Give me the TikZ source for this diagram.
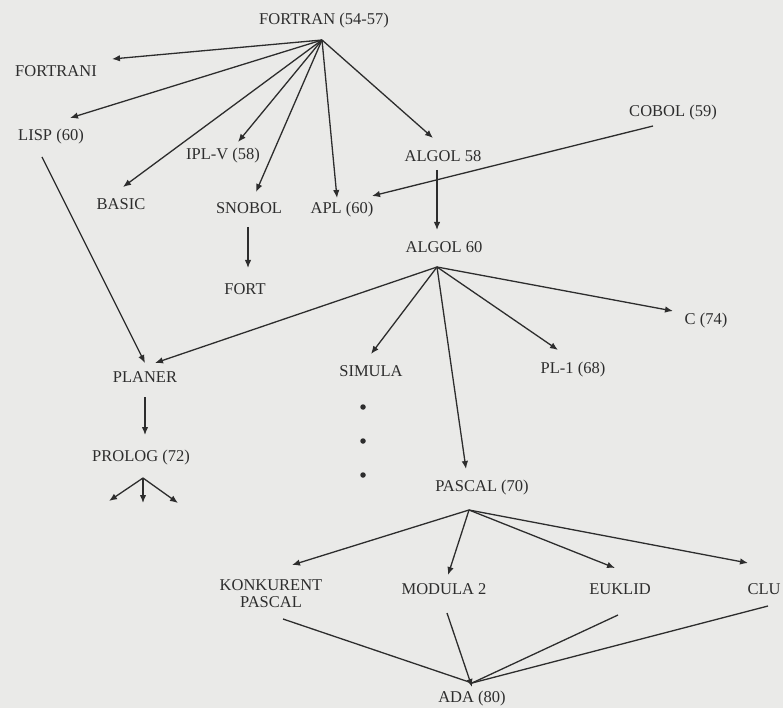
\documentclass[tikz,border=0pt]{standalone}
\usepackage{fontspec}
\setmainfont{Liberation Serif}
\usepackage{tikz}
\usepackage{xcolor}
\usetikzlibrary{calc,arrows.meta}
\definecolor{paper}{RGB}{234,234,232}
\definecolor{ink}{RGB}{45,45,45}

\begin{document}
\begin{tikzpicture}[x=1pt,y=-1pt]
        \tikzstyle{every node}=[inner sep=0pt, text=ink, font=\fontsize{16.5}{17}\selectfont]
        \tikzstyle{arr}=[draw=ink, line width=1.3pt, -{Latex[length=8pt,width=6.5pt]}]
        \tikzstyle{ln}=[draw=ink, line width=1.3pt]
        \tikzstyle{dot}=[fill=ink, circle, minimum size=5.5pt]

            \fill[paper] (0,0) rectangle (783,708);
            \useasboundingbox (0,0) rectangle (783,708);

            \node (fortran) at (324,21) {FORTRAN (54-57)};
            \node (fortrani) at (56,71) {FORTRANI};
            \node (lisp) at (51,137) {LISP (60)};
            \node (iplv) at (223,156) {IPL-V (58)};
            \node (basic) at (121,204) {BASIC};
            \node (snobol) at (249,208) {SNOBOL};
            \node (apl) at (342,210) {APL (60)};
            \node (algol58) at (443,156) {ALGOL 58};
            \node (cobol) at (673,113) {COBOL (59)};

            \node (algol60) at ($(algol58)+(1,91)$) {ALGOL 60};
            \node (fort) at ($(snobol)+(-4,81)$) {FORT};
            \node (planer) at (145,377) {PLANER};
            \node (prolog) at ($(planer)+(-4,81)$) {PROLOG (72)};
            \node (simula) at (371,371) {SIMULA};
            \node (pl1) at (573,370) {PL-1 (68)};
            \node (c74) at (706,321) {C (74)};

            \node (d1) [dot] at (363,407) {};
            \node (d2) [dot] at ($(d1)+(0,34)$) {};
            \node (d3) [dot] at ($(d2)+(0,34)$) {};

            \node (pascal) at (482,488) {PASCAL (70)};
            \node (kpascal) [align=center] at (271,594) {KONKURENT\\PASCAL};
            \node (modula) at (444,589) {MODULA 2};
            \node (euklid) at (620,589) {EUKLID};
            \node (clu) at (764,589) {CLU};
            \node (ada) at (472,699) {ADA (80)};

            \coordinate (fhub) at ($(fortran)+(-2,19)$);
            \coordinate (ahub) at ($(algol60)+(-7,20)$);
            \coordinate (phub) at ($(pascal)+(-13,22)$);
            \coordinate (prhub) at ($(prolog)+(2,20)$);
            \coordinate (adain) at ($(ada)+(0,-16)$);
            \coordinate (pr1) at ($(prhub)+(-34,23)$);
            \coordinate (pr2) at ($(prhub)+(0,25)$);
            \coordinate (pr3) at ($(prhub)+(35,25)$);

            \draw[arr] (fhub) -- ($(fortrani)+(56,-12)$);
            \draw[arr] (fhub) -- ($(lisp)+(19,-19)$);
            \draw[arr] (fhub) -- ($(basic)+(2,-17)$);
            \draw[arr] (fhub) -- ($(iplv)+(15,-14)$);
            \draw[arr] (fhub) -- ($(snobol)+(7,-16)$);
            \draw[arr] (fhub) -- ($(apl)+(-5,-12)$);
            \draw[arr] (fhub) -- ($(algol58)+(-10,-18)$);
            \draw[arr] ($(cobol)+(-20,13)$) -- ($(apl)+(30,-14)$);

            \draw[arr] ($(algol58)+(-6,14)$) -- ($(algol60)+(-7,-17)$);
            \draw[arr] ($(snobol)+(-1,19)$) -- ($(fort)+(3,-21)$);
            \draw[arr] ($(lisp)+(-9,20)$) -- ($(planer)+(0,-14)$);

            \draw[arr] (ahub) -- ($(planer)+(10,-14)$);
            \draw[arr] (ahub) -- ($(simula)+(0,-17)$);
            \draw[arr] (ahub) -- ($(pl1)+(-15,-20)$);
            \draw[arr] (ahub) -- ($(c74)+(-33,-10)$);
            \draw[arr] (ahub) -- ($(pascal)+(-16,-19)$);

            \draw[arr] ($(planer)+(0,20)$) -- ($(prolog)+(4,-23)$);
            \draw[arr] (prhub) -- (pr1);
            \draw[arr] (prhub) -- (pr2);
            \draw[arr] (prhub) -- (pr3);

            \draw[arr] (phub) -- ($(kpascal)+(21,-29)$);
            \draw[arr] (phub) -- ($(modula)+(4,-14)$);
            \draw[arr] (phub) -- ($(euklid)+(-5,-21)$);
            \draw[arr] (phub) -- ($(clu)+(-16,-26)$);

            \draw[ln] ($(kpascal)+(12,25)$) -- (adain);
            \draw[arr] ($(modula)+(3,24)$) -- ($(ada)+(0,-12)$);
            \draw[ln] ($(euklid)+(-2,26)$) -- (adain);
            \draw[ln] ($(clu)+(4,17)$) -- (adain);

        \end{tikzpicture}
\end{document}
